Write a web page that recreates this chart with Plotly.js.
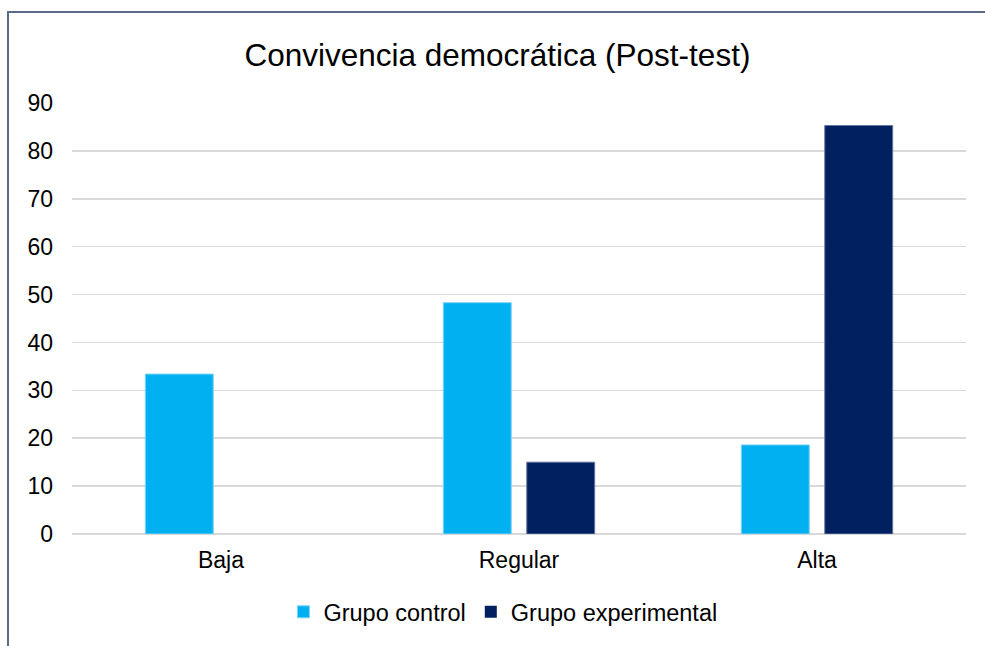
<!DOCTYPE html>
<html>
<head>
<meta charset="utf-8">
<script src="https://cdn.plot.ly/plotly-3.0.1.min.js"></script>
<style>
  html, body { margin: 0; padding: 0; background: #ffffff; }
  #wrap { position: relative; width: 985px; height: 646px; overflow: hidden; }
  #frame { position: absolute; left: 7px; top: 11px; width: 1000px; height: 700px;
           border-top: 2px solid #5b6a86; border-left: 2px solid #5b6a86; box-sizing: border-box; }
  #chart { position: absolute; left: 0; top: 0; width: 985px; height: 646px; }
</style>
</head>
<body>
<div id="wrap">
  <div id="frame"></div>
  <div id="chart"></div>
</div>
<script>
const categories = ["Baja", "Regular", "Alta"];
const seriesNames = ["Grupo control", "Grupo experimental"];
const controlValues = [33.4, 48.3, 18.6];
const experimentalValues = [0, 15.0, 85.3];
const yTicks = [0, 10, 20, 30, 40, 50, 60, 70, 80, 90];

const traces = [
  { type: "bar", name: seriesNames[0], x: categories, y: controlValues,
    marker: { color: "#00b0f0", line: { color: "#7fd3f5", width: controlValues.map(v => v > 0 ? 1 : 0) } }, hoverinfo: "x+y+name" },
  { type: "bar", name: seriesNames[1], x: categories, y: experimentalValues,
    marker: { color: "#002060", line: { color: "#6677a0", width: experimentalValues.map(v => v > 0 ? 1 : 0) } }, hoverinfo: "x+y+name" }
];

const layout = {
  width: 985, height: 646,
  paper_bgcolor: "rgba(0,0,0,0)", plot_bgcolor: "rgba(0,0,0,0)",
  font: { family: "Liberation Sans, Arial, sans-serif", color: "#000000", size: 23 },
  title: { text: "Convivencia democrática (Post-test)", font: { size: 31.5, color: "#000000" },
           x: 0.505, xanchor: "center", y: 0.915, yanchor: "middle" },
  margin: { l: 72, r: 19, t: 103, b: 110 },
  barmode: "group", bargap: 0.44, bargroupgap: 0.186,
  xaxis: { type: "category", showgrid: false, showline: false, ticks: "", zeroline: false,
           tickfont: { size: 23 }, ticklabelstandoff: 10 },
  yaxis: { range: [0, 90], tickvals: yTicks, ticktext: yTicks.map(String),
           showgrid: true, gridcolor: "#d9d9d9", gridwidth: 1.5,
           zeroline: true, zerolinecolor: "#d9d9d9", zerolinewidth: 1.5,
           showline: false, ticks: "", tickfont: { size: 23 }, ticklabelstandoff: 18 },
  legend: { orientation: "h", x: 0.482, xanchor: "center", y: -0.13, yanchor: "top",
            font: { size: 23.5 }, itemwidth: 30, traceorder: "normal" },
  showlegend: true
};

Plotly.newPlot("chart", traces, layout, { displayModeBar: false, staticPlot: true });
</script>
</body>
</html>
